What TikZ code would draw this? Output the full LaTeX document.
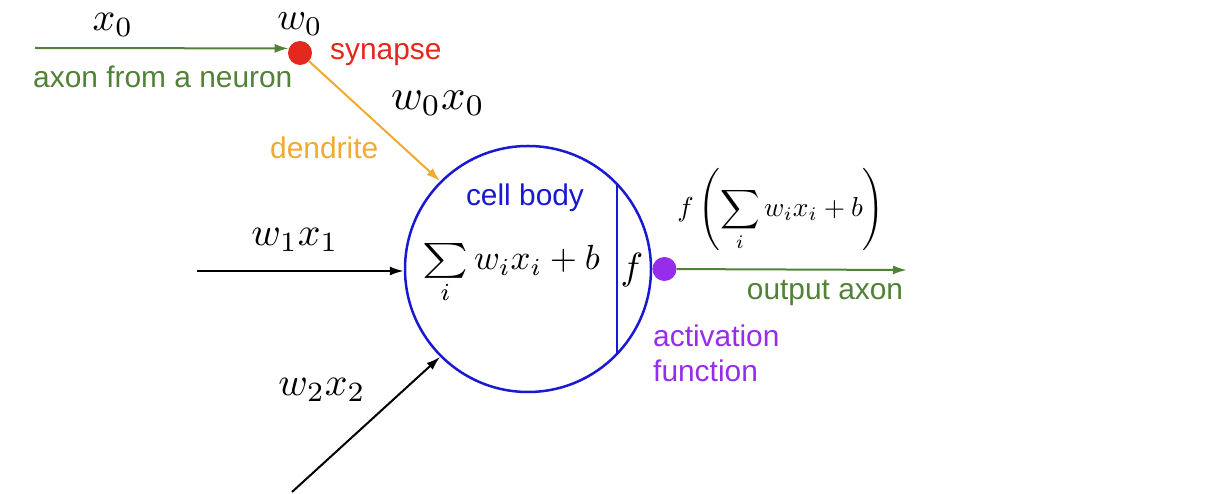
\documentclass[tikz,border=0pt]{standalone}
\usepackage{fontspec}
\usepackage{amsmath}
\usepackage{graphicx}
\newfontfamily\labfont{Liberation Sans}
\usetikzlibrary{arrows.meta,calc}
\definecolor{axgreen}{RGB}{82,130,55}
\definecolor{synred}{RGB}{228,40,30}
\definecolor{dendor}{RGB}{240,170,50}
\definecolor{cellblue}{RGB}{25,25,210}
\definecolor{actpurple}{RGB}{150,45,235}
\newcommand{\wsum}{\mathop{\scalebox{1.25}[1.0]{$\sum$}}\limits}
\tikzset{
  lab/.style={inner sep=0pt,font=\labfont\fontsize{30}{35}\selectfont},
  mlab/.style={inner sep=0pt},
  tip/.style={-{Latex[length=14bp,width=9bp]}},
  conn/.style={line width=2bp,tip},
  dot/.style={circle,inner sep=0pt,minimum size=24bp},
}
\begin{document}
\begin{tikzpicture}[x=1bp,y=-1bp]
\useasboundingbox[fill=white] (0,0) rectangle (1208,494);
% cell body
\node[circle,draw=cellblue,line width=2.5bp,minimum size=246bp,inner sep=0pt] (body) at (528,269) {};
\draw[cellblue,line width=2.2bp] (body.44) -- (body.-44);
% synapse dot
\node[dot,fill=synred] (syn) at (300,53) {};
\coordinate (a0) at (35,48);
\draw[conn,axgreen] (a0) -- (syn.158);
\draw[conn,dendor] (syn) -- (body.135);
% inputs
\coordinate (in1) at (197,271);
\draw[conn,black] (in1) -- (in1 -| body.west);
\coordinate (in2) at (292,492);
\draw[conn,black] (in2) -- (body.225);
% activation dot and output
\node[dot,fill=actpurple,anchor=west] (act) at (body.east) {};
\coordinate (out) at (907,270);
\draw[conn,axgreen] (act) -- (out);
% labels
\node[mlab] (lx0) at (113,25) {\scalebox{4}{$x_0$}};
\node[mlab] (lw0) at (300,24) {\scalebox{3.9}{$w_0$}};
\node[lab,text=synred,anchor=west] (lsyn) at (330,55) {synapse};
\node[lab,text=axgreen,anchor=west] (laxon) at (33,77) {axon from a neuron};
\node[mlab] (lw0x0) at (438,103) {\scalebox{4.3}{$w_0x_0$}};
\node[lab,text=dendor,anchor=west] (lden) at (270,148) {dendrite};
\node[lab,text=cellblue] (lcell) at (525,198) {cell body};
\node[mlab] (lsum) at (511,274) {\scalebox{3.5}{$\wsum_i w_ix_i+b$}};
\node[mlab] (lf) at (632,270) {\scalebox{3.8}{$f$}};
\node[mlab] (lout) at (781,210) {\scalebox{2.75}{$\displaystyle f\left(\sum_i w_ix_i+b\right)$}};
\node[lab,text=axgreen] (loaxon) at (825,293) {output axon};
\node[lab,text=actpurple,anchor=north west,align=left] (lact) at (653,325) {activation\\function};
\node[mlab] (lw1x1) at (295,240) {\scalebox{4}{$w_1x_1$}};
\node[mlab] (lw2x2) at (322,390) {\scalebox{4}{$w_2x_2$}};
\end{tikzpicture}
\end{document}
